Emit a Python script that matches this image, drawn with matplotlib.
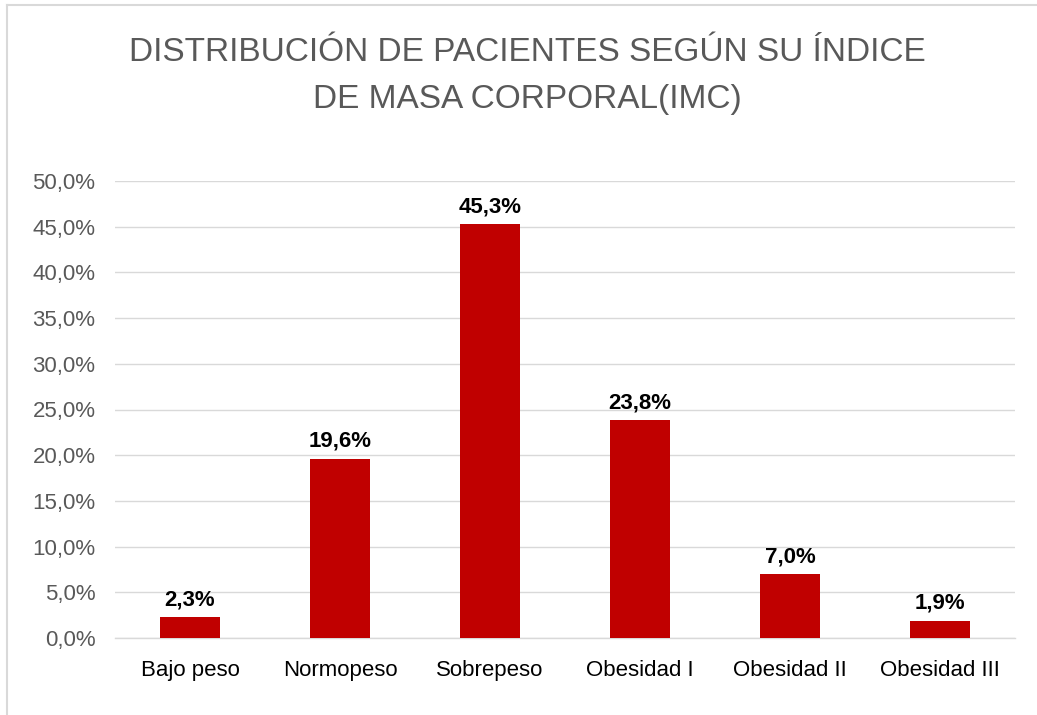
import matplotlib.pyplot as plt
from matplotlib.lines import Line2D

categorias = ["Bajo peso", "Normopeso", "Sobrepeso", "Obesidad I", "Obesidad II", "Obesidad III"]
porcentajes = [2.3, 19.6, 45.3, 23.8, 7.0, 1.9]
ticks_y = [0, 5, 10, 15, 20, 25, 30, 35, 40, 45, 50]

plt.rcParams['font.family'] = ['Liberation Sans', 'DejaVu Sans']

fig = plt.figure(figsize=(10.37, 7.15), dpi=100)
ax = fig.add_axes([115 / 1037, 1 - 638 / 715, 900 / 1037, 457 / 715])

x = list(range(len(categorias)))
bars = ax.bar(x, porcentajes, width=0.4, color="#C00000", zorder=3)

for b, v in zip(bars, porcentajes):
    ax.annotate("{:.1f}%".format(v).replace(".", ","),
                xy=(b.get_x() + b.get_width() / 2, v),
                xytext=(0, 5), textcoords="offset points",
                ha="center", va="bottom", fontsize=16, fontweight="bold", color="black")

ax.set_xlim(-0.5, len(categorias) - 0.5)
ax.set_ylim(0, 50)
ax.set_yticks(ticks_y)
ax.set_yticklabels(["{:.1f}%".format(t).replace(".", ",") for t in ticks_y])
ax.set_xticks(x)
ax.set_xticklabels(categorias)
ax.tick_params(axis="y", length=0, labelsize=16, labelcolor="#595959", pad=14)
ax.tick_params(axis="x", length=0, labelsize=16, labelcolor="black", pad=16)

ax.grid(axis="y", color="#D9D9D9", linewidth=1, zorder=0)
for s in ["top", "right", "left"]:
    ax.spines[s].set_visible(False)
ax.spines["bottom"].set_color("#D9D9D9")
ax.spines["bottom"].set_linewidth(1)

fig.text(527 / 1037, 1 - 76 / 715,
         "DISTRIBUCIÓN DE PACIENTES SEGÚN SU ÍNDICE\nDE MASA CORPORAL(IMC)",
         ha="center", va="center", fontsize=24, color="#595959", linespacing=1.65)

# borde del gráfico (solo izquierda y arriba visibles)
fig.add_artist(Line2D([7 / 1037, 7 / 1037], [0, 1 - 5 / 715], transform=fig.transFigure,
                      color="#D9D9D9", linewidth=1.5))
fig.add_artist(Line2D([7 / 1037, 1], [1 - 5 / 715, 1 - 5 / 715], transform=fig.transFigure,
                      color="#D9D9D9", linewidth=1.5))

fig.savefig("out.png", dpi=100)
